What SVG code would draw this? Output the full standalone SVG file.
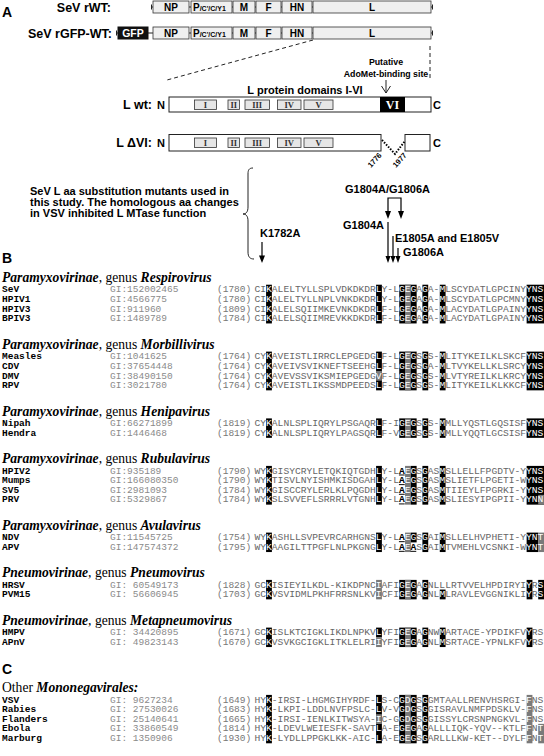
<svg xmlns="http://www.w3.org/2000/svg" width="544" height="756" viewBox="0 0 544 756">
<style>
.s{font-family:"Liberation Sans",Arial,sans-serif;font-weight:bold;fill:#000}
.bx{fill:#efefef;stroke:#333;stroke-width:0.8}
.dm{fill:#e6e6e6;stroke:#333;stroke-width:0.8}
.rn{font-family:"Liberation Serif","Times New Roman",serif;font-weight:bold;font-size:8.5px;fill:#333;text-anchor:middle}
.ln{stroke:#222;stroke-width:1;fill:none}
.hd{font-family:"Liberation Serif","Times New Roman",serif;font-size:13.6px;fill:#000}
.bi{font-weight:bold;font-style:italic}
.nm{font-family:"Liberation Mono","Courier New",monospace;font-size:9.5px;font-weight:bold;fill:#000}
.gi{font-family:"Liberation Mono","Courier New",monospace;font-size:9.5px;fill:#8a8a8a}
.nu{font-family:"Liberation Mono","Courier New",monospace;font-size:9.5px;fill:#777}
.sq{font-family:"Liberation Mono","Courier New",monospace;font-size:9.65px;fill:#666}
.w{fill:#fff}
.u{fill:#000;font-weight:bold;text-decoration:underline}
.k{fill:#000}
.g{fill:#7a7a7a}
</style>

<g id="panel-a">
<text class="s" x="2" y="17" font-size="14">A</text>
<g id="sev-rwt">
<text class="s" x="111" y="11.5" font-size="12.5" text-anchor="end">SeV rWT:</text>
<line class="ln" x1="151" y1="7" x2="433" y2="7"/>
<line class="ln" x1="151.5" y1="4.5" x2="151.5" y2="9.5"/><line class="ln" x1="432.5" y1="4.5" x2="432.5" y2="9.5"/>
<rect class="bx" x="153" y="1" width="36" height="12"/>
<rect class="bx" x="191" y="1" width="41" height="12"/>
<rect class="bx" x="233" y="1" width="22" height="12" stroke-width="1.6"/>
<rect class="bx" x="256" y="1" width="25" height="12"/>
<rect class="bx" x="282" y="1" width="30" height="12"/>
<rect class="bx" x="313" y="1" width="118" height="12"/>
<text class="s" font-size="10" text-anchor="middle" y="11"><tspan x="171">NP</tspan><tspan x="244">M</tspan><tspan x="268.5">F</tspan><tspan x="297">HN</tspan><tspan x="372">L</tspan></text>
<text class="s" x="193" y="11" font-size="10">P<tspan font-size="7">/C'/C/Y1</tspan></text>
</g>
<g id="sev-rgfp-wt">
<text class="s" x="112" y="37.5" font-size="12.5" text-anchor="end">SeV rGFP-WT:</text>
<line class="ln" x1="116" y1="33" x2="433" y2="33"/>
<line class="ln" x1="116.5" y1="30.5" x2="116.5" y2="35.5"/><line class="ln" x1="432.5" y1="30.5" x2="432.5" y2="35.5"/>
<rect x="118" y="27" width="30" height="12" fill="#111" stroke="#111"/>
<text x="133" y="37" class="s" font-size="10.5" text-anchor="middle" style="fill:#fff">GFP</text>
<rect class="bx" x="153" y="27" width="36" height="12"/>
<rect class="bx" x="191" y="27" width="41" height="12"/>
<rect class="bx" x="233" y="27" width="22" height="12" stroke-width="1.6"/>
<rect class="bx" x="256" y="27" width="25" height="12"/>
<rect class="bx" x="282" y="27" width="30" height="12"/>
<rect class="bx" x="313" y="27" width="118" height="12"/>
<text class="s" font-size="10" text-anchor="middle" y="37"><tspan x="171">NP</tspan><tspan x="244">M</tspan><tspan x="268.5">F</tspan><tspan x="297">HN</tspan><tspan x="372">L</tspan></text>
<text class="s" x="193" y="37" font-size="10">P<tspan font-size="7">/C'/C/Y1</tspan></text>
</g>
<g id="zoom-lines">
<line class="ln" x1="313" y1="40" x2="167" y2="80" stroke-dasharray="4,3"/>
<line class="ln" x1="430" y1="46" x2="430" y2="80" stroke-dasharray="4,3"/>
</g>
<g id="adomet">
<text class="s" font-size="8.8" text-anchor="middle"><tspan x="386" y="65">Putative</tspan><tspan x="386" y="77">AdoMet-binding site</tspan></text>
<line class="ln" x1="386" y1="80" x2="386" y2="93"/>
<polyline class="ln" points="381.5,86 386,93 390.5,86"/>
</g>
<text class="s" x="305" y="94" font-size="11" text-anchor="middle">L protein domains I-VI</text>
<g id="l-wt">
<text class="s" x="152" y="108.5" font-size="12.5" text-anchor="end">L wt:</text>
<text class="s" x="157" y="108.5" font-size="11">N</text>
<text class="s" x="433" y="108.5" font-size="11">C</text>
<rect x="169" y="97" width="262" height="15" fill="#fff" stroke="#222" stroke-width="1"/>
<rect class="dm" x="194.5" y="100" width="22" height="9.5"/>
<rect class="dm" x="228" y="100" width="11.5" height="9.5"/>
<rect class="dm" x="245" y="100" width="24.5" height="9.5"/>
<rect class="dm" x="277.5" y="100" width="23.5" height="9.5"/>
<rect class="dm" x="304" y="100" width="29" height="9.5"/>
<text class="rn" y="108"><tspan x="205.5">I</tspan><tspan x="233.7">II</tspan><tspan x="257.2">III</tspan><tspan x="289.2">IV</tspan><tspan x="318.5">V</tspan></text>
<rect x="380" y="97" width="25" height="15" fill="#000"/>
<text x="392.5" y="109" font-family="Liberation Serif,serif" font-weight="bold" font-size="12" fill="#fff" text-anchor="middle">VI</text>
</g>
<g id="l-dvi">
<text class="s" x="152" y="146.5" font-size="12.5" text-anchor="end">L ΔVI:</text>
<text class="s" x="157" y="146.5" font-size="11">N</text>
<text class="s" x="433" y="146.5" font-size="11">C</text>
<rect x="169" y="134.5" width="212" height="16.5" fill="#fff" stroke="#222" stroke-width="1"/>
<rect x="405" y="134.5" width="25" height="16.5" fill="#fff" stroke="#222" stroke-width="1"/>
<rect class="dm" x="194.5" y="138" width="22" height="9.5"/>
<rect class="dm" x="228" y="138" width="11.5" height="9.5"/>
<rect class="dm" x="245" y="138" width="24.5" height="9.5"/>
<rect class="dm" x="277.5" y="138" width="23.5" height="9.5"/>
<rect class="dm" x="304" y="138" width="29" height="9.5"/>
<text class="rn" y="146"><tspan x="205.5">I</tspan><tspan x="233.7">II</tspan><tspan x="257.2">III</tspan><tspan x="289.2">IV</tspan><tspan x="318.5">V</tspan></text>
<polyline points="382,140 395,154 405,141" fill="none" stroke="#000" stroke-width="2" stroke-dasharray="1.5,1.5"/>
<text class="s" font-size="7.5" transform="translate(371,168) rotate(-48)">1776</text>
<text class="s" font-size="7.5" transform="translate(396,168) rotate(-48)">1977</text>
</g>
<g id="mutant-note">
<text class="s" font-size="11"><tspan x="30" y="195">SeV L aa substitution mutants used in</tspan><tspan x="30" y="206">this study. The homologous aa changes</tspan><tspan x="30" y="217">in VSV  inhibited  L MTase function</tspan></text>
<path class="ln" d="M253,168 C249,168 248,170 248,174 L248,207 C248,212 246,214 243,214 C246,214 248,216 248,221 L248,252 C248,257 250,259 254,259"/>
</g>
<g id="mutant-labels">
<text class="s" x="260" y="237" font-size="11">K1782A</text>
<text class="s" x="345" y="193" font-size="11">G1804A/G1806A</text>
<text class="s" x="343" y="229" font-size="11">G1804A</text>
<text class="s" x="395" y="242" font-size="11">E1805A and E1805V</text>
<text class="s" x="403" y="256" font-size="11">G1806A</text>
</g>
<g id="connectors" stroke="#000" stroke-width="1.2" fill="none">
<line x1="262" y1="242" x2="262" y2="257"/>
<path d="M259,255.5 L265,255.5 L262,263 Z" fill="#000" stroke="none"/>
<polyline points="388,212 388,198 401,198 401,212"/>
<path d="M385,211 L391,211 L388,219 Z M398,211 L404,211 L401,219 Z" fill="#000" stroke="none"/>
<line x1="388" y1="222" x2="388" y2="257"/>
<line x1="393" y1="236" x2="393" y2="257"/>
<line x1="398" y1="248" x2="398" y2="257"/>
<path d="M385.5,256 L390.5,256 L388,263 Z M390.5,256 L395.5,256 L393,263 Z M395.5,256 L400.5,256 L398,263 Z" fill="#000" stroke="none"/>
</g>
</g>

<g id="panel-b">
<text class="s" x="2" y="263" font-size="14">B</text>

<g id="respirovirus">
<text class="hd" x="2" y="282"><tspan class="bi">Paramyxovirinae</tspan>, genus <tspan class="bi">Respirovirus</tspan></text>
<rect class="k" x="266.08" y="284.7" width="5.8" height="38.75"/>
<rect class="k" x="376.09" y="284.7" width="5.8" height="38.75"/>
<rect class="k" x="399.25" y="284.7" width="17.4" height="38.75"/>
<rect class="g" x="405.04" y="284.7" width="5.8" height="38.75"/>
<rect class="k" x="422.41" y="284.7" width="5.8" height="38.75"/>
<rect class="k" x="439.78" y="284.7" width="5.8" height="38.75"/>
<rect class="k" x="526.63" y="284.7" width="17.4" height="38.75"/>
<text class="nm" x="2"><tspan y="292.3">SeV</tspan><tspan x="2" y="301.95">HPIV1</tspan><tspan x="2" y="311.6">HPIV3</tspan><tspan x="2" y="321.25">BPIV3</tspan></text>
<text class="gi" x="110"><tspan y="292.3">GI:152002465</tspan><tspan x="110" y="301.95">GI:4566775</tspan><tspan x="110" y="311.6">GI:911960</tspan><tspan x="110" y="321.25">GI:1489789</tspan></text>
<text class="nu" x="217"><tspan y="292.3">(1780)</tspan><tspan x="217" y="301.95">(1780)</tspan><tspan x="217" y="311.6">(1809)</tspan><tspan x="217" y="321.25">(1784)</tspan></text>
<text class="sq" x="254.5" y="292.3">CI<tspan class="w">K</tspan>ALELTYLLSPLVDKDKDR<tspan class="w">L</tspan>Y-L<tspan class="w">GEG</tspan>A<tspan class="w">G</tspan>A-<tspan class="w">M</tspan>LSCYDATLGPCINY<tspan class="w">YNS</tspan></text>
<text class="sq" x="254.5" y="301.95">CI<tspan class="w">K</tspan>ALELTYLLNPLVNKDKDR<tspan class="w">L</tspan>Y-L<tspan class="w">GEG</tspan>A<tspan class="w">G</tspan>A-<tspan class="w">M</tspan>LSCYDATLGPCMNY<tspan class="w">YNS</tspan></text>
<text class="sq" x="254.5" y="311.6">CI<tspan class="w">K</tspan>ALELSQIIMKEVNKDKDR<tspan class="w">L</tspan>F-L<tspan class="w">GEG</tspan>A<tspan class="w">G</tspan>A-<tspan class="w">M</tspan>LACYDATLGPAINY<tspan class="w">YNS</tspan></text>
<text class="sq" x="254.5" y="321.25">CI<tspan class="w">K</tspan>ALELSQIIMREVKKDKDR<tspan class="w">L</tspan>F-L<tspan class="w">GEG</tspan>A<tspan class="w">G</tspan>A-<tspan class="w">M</tspan>LACYDATLGPAINY<tspan class="w">YNS</tspan></text>
</g>

<g id="morbillivirus">
<text class="hd" x="2" y="348.5"><tspan class="bi">Paramyxovirinae</tspan>, genus <tspan class="bi">Morbillivirus</tspan></text>
<rect class="k" x="266.08" y="351.6" width="5.8" height="38.75"/>
<rect class="k" x="376.09" y="351.6" width="5.8" height="38.75"/>
<rect class="g" x="376.09" y="370.9" width="5.8" height="9.8"/>
<rect class="k" x="399.25" y="351.6" width="17.4" height="38.75"/>
<rect class="g" x="405.04" y="351.6" width="5.8" height="38.75"/>
<rect class="k" x="422.41" y="351.6" width="5.8" height="38.75"/>
<rect class="k" x="439.78" y="351.6" width="5.8" height="38.75"/>
<rect class="k" x="526.63" y="351.6" width="17.4" height="38.75"/>
<text class="nm" x="2"><tspan y="359.2">Measles</tspan><tspan x="2" y="368.85">CDV</tspan><tspan x="2" y="378.5">DMV</tspan><tspan x="2" y="388.15">RPV</tspan></text>
<text class="gi" x="110"><tspan y="359.2">GI:1041625</tspan><tspan x="110" y="368.85">GI:37654448</tspan><tspan x="110" y="378.5">GI:38490150</tspan><tspan x="110" y="388.15">GI:3021780</tspan></text>
<text class="nu" x="217"><tspan y="359.2">(1764)</tspan><tspan x="217" y="368.85">(1764)</tspan><tspan x="217" y="378.5">(1764)</tspan><tspan x="217" y="388.15">(1764)</tspan></text>
<text class="sq" x="254.5" y="359.2">CY<tspan class="w">K</tspan>AVEISTLIRRCLEPGEDG<tspan class="w">L</tspan>F-L<tspan class="w">GEG</tspan>S<tspan class="w">G</tspan>S-<tspan class="w">M</tspan>LITYKEILKLSKCF<tspan class="w">YNS</tspan></text>
<text class="sq" x="254.5" y="368.85">CY<tspan class="w">K</tspan>AVEIVSVIKNEFTSEEHG<tspan class="w">L</tspan>F-L<tspan class="w">GEG</tspan>S<tspan class="w">G</tspan>A-<tspan class="w">M</tspan>LTVYKELLKLSRCY<tspan class="w">YNS</tspan></text>
<text class="sq" x="254.5" y="378.5">CY<tspan class="w">K</tspan>AVEVSSVIKSMIEPGEDG<tspan class="w">V</tspan>F-L<tspan class="w">GEG</tspan>S<tspan class="w">G</tspan>S-<tspan class="w">M</tspan>LVTYREILKLKRCY<tspan class="w">YNS</tspan></text>
<text class="sq" x="254.5" y="388.15">CY<tspan class="w">K</tspan>AVEISTLIKSSMDPEEDS<tspan class="w">L</tspan>F-L<tspan class="w">GEG</tspan>S<tspan class="w">G</tspan>S-<tspan class="w">M</tspan>LITYKEILKLKKCF<tspan class="w">YNS</tspan></text>
</g>

<g id="henipavirus">
<text class="hd" x="2" y="415.5"><tspan class="bi">Paramyxovirinae</tspan>, genus <tspan class="bi">Henipavirus</tspan></text>
<rect class="k" x="266.08" y="418.4" width="5.8" height="19.45"/>
<rect class="k" x="376.09" y="418.4" width="5.8" height="19.45"/>
<rect class="k" x="399.25" y="418.4" width="17.4" height="19.45"/>
<rect class="g" x="405.04" y="418.4" width="5.8" height="19.45"/>
<rect class="k" x="422.41" y="418.4" width="5.8" height="19.45"/>
<rect class="k" x="439.78" y="418.4" width="5.8" height="19.45"/>
<rect class="k" x="526.63" y="418.4" width="17.4" height="19.45"/>
<text class="nm" x="2"><tspan y="426">Nipah</tspan><tspan x="2" y="435.65">Hendra</tspan></text>
<text class="gi" x="110"><tspan y="426">GI:66271899</tspan><tspan x="110" y="435.65">GI:1446468</tspan></text>
<text class="nu" x="217"><tspan y="426">(1819)</tspan><tspan x="217" y="435.65">(1819)</tspan></text>
<text class="sq" x="254.5" y="426">CY<tspan class="w">K</tspan>ALNLSPLIQRYLPSGAQR<tspan class="w">L</tspan>F-I<tspan class="w">GEG</tspan>S<tspan class="w">G</tspan>S-<tspan class="w">M</tspan>MLLYQSTLGQSISF<tspan class="w">YNS</tspan></text>
<text class="sq" x="254.5" y="435.65">CY<tspan class="w">K</tspan>ALNLSPLIQRYLPAGSQR<tspan class="w">L</tspan>F-V<tspan class="w">GEG</tspan>S<tspan class="w">G</tspan>S-<tspan class="w">M</tspan>MLLYQQTLGCSISF<tspan class="w">YNS</tspan></text>
</g>

<g id="rubulavirus">
<text class="hd" x="2" y="463"><tspan class="bi">Paramyxovirinae</tspan>, genus <tspan class="bi">Rubulavirus</tspan></text>
<rect class="k" x="266.08" y="465.9" width="5.8" height="38.75"/>
<rect class="k" x="376.09" y="465.9" width="5.8" height="38.75"/>
<rect class="g" x="405.04" y="465.9" width="5.8" height="38.75"/>
<rect class="k" x="410.83" y="465.9" width="5.8" height="38.75"/>
<rect class="k" x="422.41" y="465.9" width="5.8" height="38.75"/>
<rect class="k" x="439.78" y="465.9" width="5.8" height="38.75"/>
<rect class="k" x="526.63" y="465.9" width="17.4" height="38.75"/>
<rect class="g" x="538.21" y="494.85" width="5.8" height="9.8"/>
<text class="nm" x="2"><tspan y="473.5">HPIV2</tspan><tspan x="2" y="483.15">Mumps</tspan><tspan x="2" y="492.8">SV5</tspan><tspan x="2" y="502.45">PRV</tspan></text>
<text class="gi" x="110"><tspan y="473.5">GI:935189</tspan><tspan x="110" y="483.15">GI:166080350</tspan><tspan x="110" y="492.8">GI:2981093</tspan><tspan x="110" y="502.45">GI:5329867</tspan></text>
<text class="nu" x="217"><tspan y="473.5">(1790)</tspan><tspan x="217" y="483.15">(1790)</tspan><tspan x="217" y="492.8">(1784)</tspan><tspan x="217" y="502.45">(1784)</tspan></text>
<text class="sq" x="254.5" y="473.5">WY<tspan class="w">K</tspan>GISYCRYLETQKIQTGDH<tspan class="w">L</tspan>Y-L<tspan class="u">A</tspan><tspan class="w">EG</tspan>S<tspan class="w">G</tspan>AS<tspan class="w">M</tspan>SLLELLFPGDTV-Y<tspan class="w">YNS</tspan></text>
<text class="sq" x="254.5" y="483.15">WY<tspan class="w">K</tspan>TISVLNYISHMKISDGAH<tspan class="w">L</tspan>Y-L<tspan class="u">A</tspan><tspan class="w">EG</tspan>S<tspan class="w">G</tspan>AS<tspan class="w">M</tspan>SLIETFLPGETI-W<tspan class="w">YNS</tspan></text>
<text class="sq" x="254.5" y="492.8">WY<tspan class="w">K</tspan>GISCCRYLERLKLPQGDH<tspan class="w">L</tspan>Y-L<tspan class="u">A</tspan><tspan class="w">EG</tspan>S<tspan class="w">G</tspan>AS<tspan class="w">M</tspan>TIIEYLFPGRKI-Y<tspan class="w">YNS</tspan></text>
<text class="sq" x="254.5" y="502.45">WY<tspan class="w">K</tspan>SLSVVEFLSRRRLVTGNH<tspan class="w">L</tspan>Y-L<tspan class="u">A</tspan><tspan class="w">EG</tspan>S<tspan class="w">G</tspan>AS<tspan class="w">M</tspan>SLIESYIPGPII-Y<tspan class="w">YNN</tspan></text>
</g>

<g id="avulavirus">
<text class="hd" x="2" y="529.5"><tspan class="bi">Paramyxovirinae</tspan>, genus <tspan class="bi">Avulavirus</tspan></text>
<rect class="k" x="266.08" y="532.6" width="5.8" height="19.45"/>
<rect class="k" x="376.09" y="532.6" width="5.8" height="19.45"/>
<rect class="g" x="405.04" y="532.6" width="5.8" height="19.45"/>
<rect class="k" x="410.83" y="532.6" width="5.8" height="9.8"/>
<rect class="k" x="422.41" y="532.6" width="5.8" height="19.45"/>
<rect class="k" x="439.78" y="532.6" width="5.8" height="19.45"/>
<rect class="k" x="526.63" y="532.6" width="11.6" height="19.45"/>
<rect class="g" x="538.21" y="532.6" width="5.8" height="19.45"/>
<text class="nm" x="2"><tspan y="540.2">NDV</tspan><tspan x="2" y="549.85">APV</tspan></text>
<text class="gi" x="110"><tspan y="540.2">GI:11545725</tspan><tspan x="110" y="549.85">GI:147574372</tspan></text>
<text class="nu" x="217"><tspan y="540.2">(1754)</tspan><tspan x="217" y="549.85">(1795)</tspan></text>
<text class="sq" x="254.5" y="540.2">WY<tspan class="w">K</tspan>ASHLLSVPEVRCARHGNS<tspan class="w">L</tspan>Y-L<tspan class="u">A</tspan><tspan class="w">EG</tspan>S<tspan class="w">G</tspan>AI<tspan class="w">M</tspan>SLLELHVPHETI-Y<tspan class="w">YNT</tspan></text>
<text class="sq" x="254.5" y="549.85">WY<tspan class="w">K</tspan>AAGILTTPGFLNLPKGNG<tspan class="w">L</tspan>Y-L<tspan class="u">A</tspan><tspan class="w">E</tspan><tspan class="u">A</tspan>S<tspan class="w">G</tspan>AI<tspan class="w">M</tspan>TVMEHLVCSNKI-W<tspan class="w">YNT</tspan></text>
</g>

<g id="pneumovirus">
<text class="hd" x="2" y="577"><tspan class="bi">Pneumovirinae</tspan>, genus <tspan class="bi">Pneumovirus</tspan></text>
<rect class="k" x="266.08" y="579.9" width="5.8" height="19.45"/>
<rect class="g" x="376.09" y="579.9" width="5.8" height="19.45"/>
<rect class="k" x="399.25" y="579.9" width="17.4" height="19.45"/>
<rect class="g" x="405.04" y="579.9" width="5.8" height="19.45"/>
<rect class="k" x="422.41" y="579.9" width="5.8" height="19.45"/>
<rect class="k" x="439.78" y="589.55" width="5.8" height="9.8"/>
<rect class="k" x="526.63" y="579.9" width="5.8" height="19.45"/>
<rect class="k" x="538.21" y="579.9" width="5.8" height="19.45"/>
<text class="nm" x="2"><tspan y="587.5">HRSV</tspan><tspan x="2" y="597.15">PVM15</tspan></text>
<text class="gi" x="110"><tspan y="587.5">GI: 60549173</tspan><tspan x="110" y="597.15">GI: 56606945</tspan></text>
<text class="nu" x="217"><tspan y="587.5">(1828)</tspan><tspan x="217" y="597.15">(1703)</tspan></text>
<text class="sq" x="254.5" y="587.5">GC<tspan class="w">K</tspan>ISIEYILKDL-KIKDPNC<tspan class="w">I</tspan>AFI<tspan class="w">GEG</tspan>A<tspan class="w">G</tspan>NLLLRTVVELHPDIRYI<tspan class="w">Y</tspan>R<tspan class="w">S</tspan></text>
<text class="sq" x="254.5" y="597.15">GC<tspan class="w">K</tspan>VSVIDMLPKHFRRSNLKV<tspan class="w">I</tspan>CFI<tspan class="w">GEG</tspan>A<tspan class="w">G</tspan>NL<tspan class="w">M</tspan>LRAVLEVGGNIKLI<tspan class="w">Y</tspan>R<tspan class="w">S</tspan></text>
</g>

<g id="metapneumovirus">
<text class="hd" x="2" y="624.5"><tspan class="bi">Pneumovirinae</tspan>, genus <tspan class="bi">Metapneumovirus</tspan></text>
<rect class="k" x="266.08" y="627.6" width="5.8" height="19.45"/>
<rect class="k" x="376.09" y="627.6" width="5.8" height="9.8"/>
<rect class="g" x="376.09" y="637.25" width="5.8" height="9.8"/>
<rect class="k" x="399.25" y="627.6" width="17.4" height="19.45"/>
<rect class="g" x="405.04" y="627.6" width="5.8" height="19.45"/>
<rect class="k" x="422.41" y="627.6" width="5.8" height="19.45"/>
<rect class="k" x="439.78" y="627.6" width="5.8" height="19.45"/>
<rect class="k" x="526.63" y="627.6" width="5.8" height="19.45"/>
<text class="nm" x="2"><tspan y="635.2">HMPV</tspan><tspan x="2" y="644.85">APnV</tspan></text>
<text class="gi" x="110"><tspan y="635.2">GI: 34420895</tspan><tspan x="110" y="644.85">GI: 49823143</tspan></text>
<text class="nu" x="217"><tspan y="635.2">(1671)</tspan><tspan x="217" y="644.85">(1670)</tspan></text>
<text class="sq" x="254.5" y="635.2">GC<tspan class="w">K</tspan>ISLKTCIGKLIKDLNPKV<tspan class="w">L</tspan>YFI<tspan class="w">GEG</tspan>A<tspan class="w">G</tspan>NW<tspan class="w">M</tspan>ARTACE-YPDIKFV<tspan class="w">Y</tspan>RS</text>
<text class="sq" x="254.5" y="644.85">GC<tspan class="w">K</tspan>VSVKGCIGKLITKLELRI<tspan class="w">I</tspan>YFI<tspan class="w">GEG</tspan>A<tspan class="w">G</tspan>NL<tspan class="w">M</tspan>SRTACE-YPNLKFV<tspan class="w">Y</tspan>RS</text>
</g>
</g>

<g id="panel-c">
<text class="s" x="2" y="673.5" font-size="14">C</text>
<text class="hd" x="2" y="692">Other <tspan class="bi">Mononegavirales:</tspan></text>
<rect class="k" x="266.08" y="694.9" width="5.8" height="48.4"/>
<rect class="k" x="376.09" y="694.9" width="5.8" height="48.4"/>
<rect class="g" x="376.09" y="714.2" width="5.8" height="9.8"/>
<rect class="k" x="399.25" y="694.9" width="17.4" height="48.4"/>
<rect class="g" x="405.04" y="694.9" width="5.8" height="48.4"/>
<rect class="k" x="422.41" y="694.9" width="5.8" height="48.4"/>
<rect class="g" x="526.63" y="694.9" width="5.8" height="48.4"/>
<rect class="g" x="538.21" y="723.85" width="5.8" height="19.45"/>
<text class="nm" x="2"><tspan y="702.5">VSV</tspan><tspan x="2" y="712.15">Rabies</tspan><tspan x="2" y="721.8">Flanders</tspan><tspan x="2" y="731.45">Ebola</tspan><tspan x="2" y="741.1">Marburg</tspan></text>
<text class="gi" x="110"><tspan y="702.5">GI: 9627234</tspan><tspan x="110" y="712.15">GI: 27530026</tspan><tspan x="110" y="721.8">GI: 25140641</tspan><tspan x="110" y="731.45">GI: 33860549</tspan><tspan x="110" y="741.1">GI: 1350906</tspan></text>
<text class="nu" x="217"><tspan y="702.5">(1649)</tspan><tspan x="217" y="712.15">(1683)</tspan><tspan x="217" y="721.8">(1665)</tspan><tspan x="217" y="731.45">(1814)</tspan><tspan x="217" y="741.1">(1930)</tspan></text>
<text class="sq" x="254.5" y="702.5">HY<tspan class="w">K</tspan>-IRSI-LHGMGIHYRDF-<tspan class="w">L</tspan>S-C<tspan class="w">GDG</tspan>S<tspan class="w">G</tspan>GMTAALLRENVHSRGI-<tspan class="w">F</tspan>NS</text>
<text class="sq" x="254.5" y="712.15">HY<tspan class="w">K</tspan>-LKPI-LDDLNVFPSLC-<tspan class="w">L</tspan>V-V<tspan class="w">GDG</tspan>S<tspan class="w">G</tspan>GISRAVLNMFPDSKLV-<tspan class="w">F</tspan>NS</text>
<text class="sq" x="254.5" y="721.8">HY<tspan class="w">K</tspan>-IRSI-IENLKITWSYA-<tspan class="w">I</tspan>C-G<tspan class="w">GDG</tspan>S<tspan class="w">G</tspan>GISSYLCRSNPNGKVL-<tspan class="w">F</tspan>NS</text>
<text class="sq" x="254.5" y="731.45">HY<tspan class="w">K</tspan>-LDEVLWEIESFK-SAVT<tspan class="w">L</tspan>A-E<tspan class="w">GEG</tspan>A<tspan class="w">G</tspan>ALLLIQK-YQV--KTLF<tspan class="w">F</tspan>N<tspan class="w">T</tspan></text>
<text class="sq" x="254.5" y="741.1">HY<tspan class="w">K</tspan>-LYDLLPPGKLKK-AIC-<tspan class="w">L</tspan>A-E<tspan class="w">GEG</tspan>S<tspan class="w">G</tspan>ARLLLKW-KET--DYLF<tspan class="w">F</tspan>N<tspan class="w">T</tspan></text>
</g>
</svg>
